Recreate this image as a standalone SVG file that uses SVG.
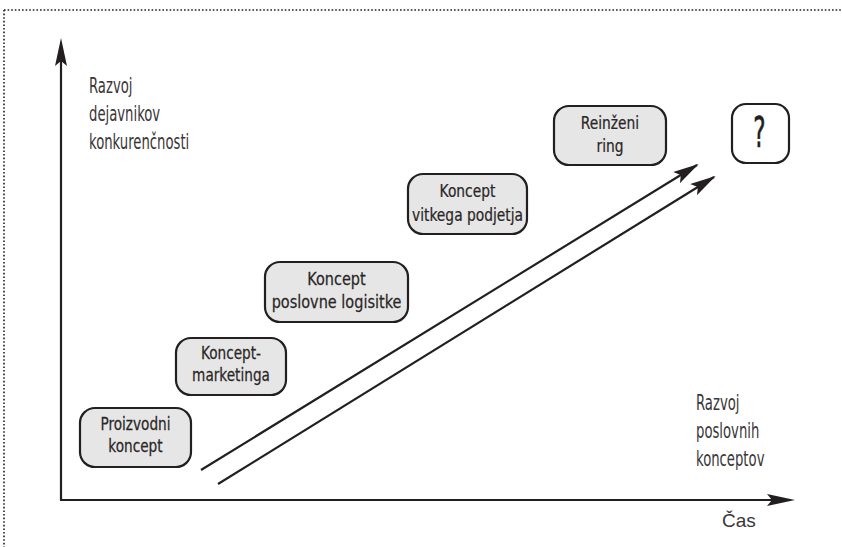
<svg xmlns="http://www.w3.org/2000/svg" width="842" height="547" viewBox="0 0 842 547">
<style>
.box{fill:#e6e6e6;stroke:#231f20;stroke-width:2.2}
.bt{font-family:"DejaVu Sans Condensed","Liberation Sans",sans-serif;font-size:18.5px;fill:#2a2627;text-anchor:middle;stroke:#2a2627;stroke-width:0.25}
.lbl{font-family:"DejaVu Sans Condensed","Liberation Sans",sans-serif;font-size:21px;fill:#3a3637}
.ax{stroke:#231f20;stroke-width:2.2;fill:none}
.ar{stroke:#231f20;stroke-width:2.2;fill:none;marker-end:url(#ah)}
</style>
<defs>
<marker id="ah" markerWidth="26" markerHeight="13" refX="24" refY="6.5" orient="auto" markerUnits="userSpaceOnUse">
<path d="M0,0 L26,6.5 L0,13 L5,6.5 Z" fill="#231f20"/>
</marker>
</defs>
<rect width="842" height="547" fill="#fff"/>
<path d="M4,10 H842 M4,10 V547" stroke="#231f20" stroke-width="1.6" stroke-dasharray="1.6,2" fill="none"/>
<g id="connectors">
<path class="ax" d="M61,500 V58"/>
<path d="M61,38 L67,66 L61,61 L55,66 Z" fill="#231f20"/>
<path class="ax" d="M60,500 H775"/>
<path d="M795,500 L767,494 L772,500 L767,506 Z" fill="#231f20"/>
<path class="ar" d="M201,470 L697,165"/>
<path class="ar" d="M218,484 L714,177"/>
</g>
<g id="labels">
<text class="lbl" transform="translate(89,93) scale(0.7,1)">Razvoj</text>
<text class="lbl" transform="translate(89,121) scale(0.7,1)">dejavnikov</text>
<text class="lbl" transform="translate(89,149) scale(0.7,1)">konkurenčnosti</text>
<text class="lbl" transform="translate(696,410) scale(0.7,1)">Razvoj</text>
<text class="lbl" transform="translate(696,438) scale(0.7,1)">poslovnih</text>
<text class="lbl" transform="translate(696,466) scale(0.7,1)">konceptov</text>
<text x="722" y="527" font-family="Liberation Sans,sans-serif" font-size="19" fill="#3a3637">Čas</text>
</g>
<g id="n1"><rect class="box" x="80" y="408" width="111" height="59" rx="15"/>
<text class="bt" transform="translate(135.5,430) scale(0.82,1)">Proizvodni</text>
<text class="bt" transform="translate(135.5,452) scale(0.82,1)">koncept</text></g>
<g id="n2"><rect class="box" x="176" y="338" width="110" height="57" rx="15"/>
<text class="bt" transform="translate(231,359) scale(0.82,1)">Koncept-</text>
<text class="bt" transform="translate(231,381) scale(0.82,1)">marketinga</text></g>
<g id="n3"><rect class="box" x="265" y="262" width="143" height="60" rx="15"/>
<text class="bt" transform="translate(336.5,285) scale(0.87,1)">Koncept</text>
<text class="bt" transform="translate(336.5,308) scale(0.87,1)">poslovne logisitke</text></g>
<g id="n4"><rect class="box" x="408" y="174" width="119" height="60" rx="15"/>
<text class="bt" transform="translate(467.5,197) scale(0.83,1)">Koncept</text>
<text class="bt" transform="translate(467.5,221) scale(0.83,1)">vitkega podjetja</text></g>
<g id="n5"><rect class="box" x="554" y="106" width="112" height="59" rx="15"/>
<text class="bt" transform="translate(610,129) scale(0.83,1)">Reinženi</text>
<text class="bt" transform="translate(610,152) scale(0.83,1)">ring</text></g>
<g id="n6"><rect x="732" y="104" width="57" height="59" rx="14" fill="#fff" stroke="#231f20" stroke-width="2.2"/>
<text transform="translate(759.5,147) scale(0.6,1)" font-family="DejaVu Sans Condensed,sans-serif" font-size="43" fill="#231f20" stroke="#231f20" stroke-width="0.6" text-anchor="middle">?</text></g>
</svg>
